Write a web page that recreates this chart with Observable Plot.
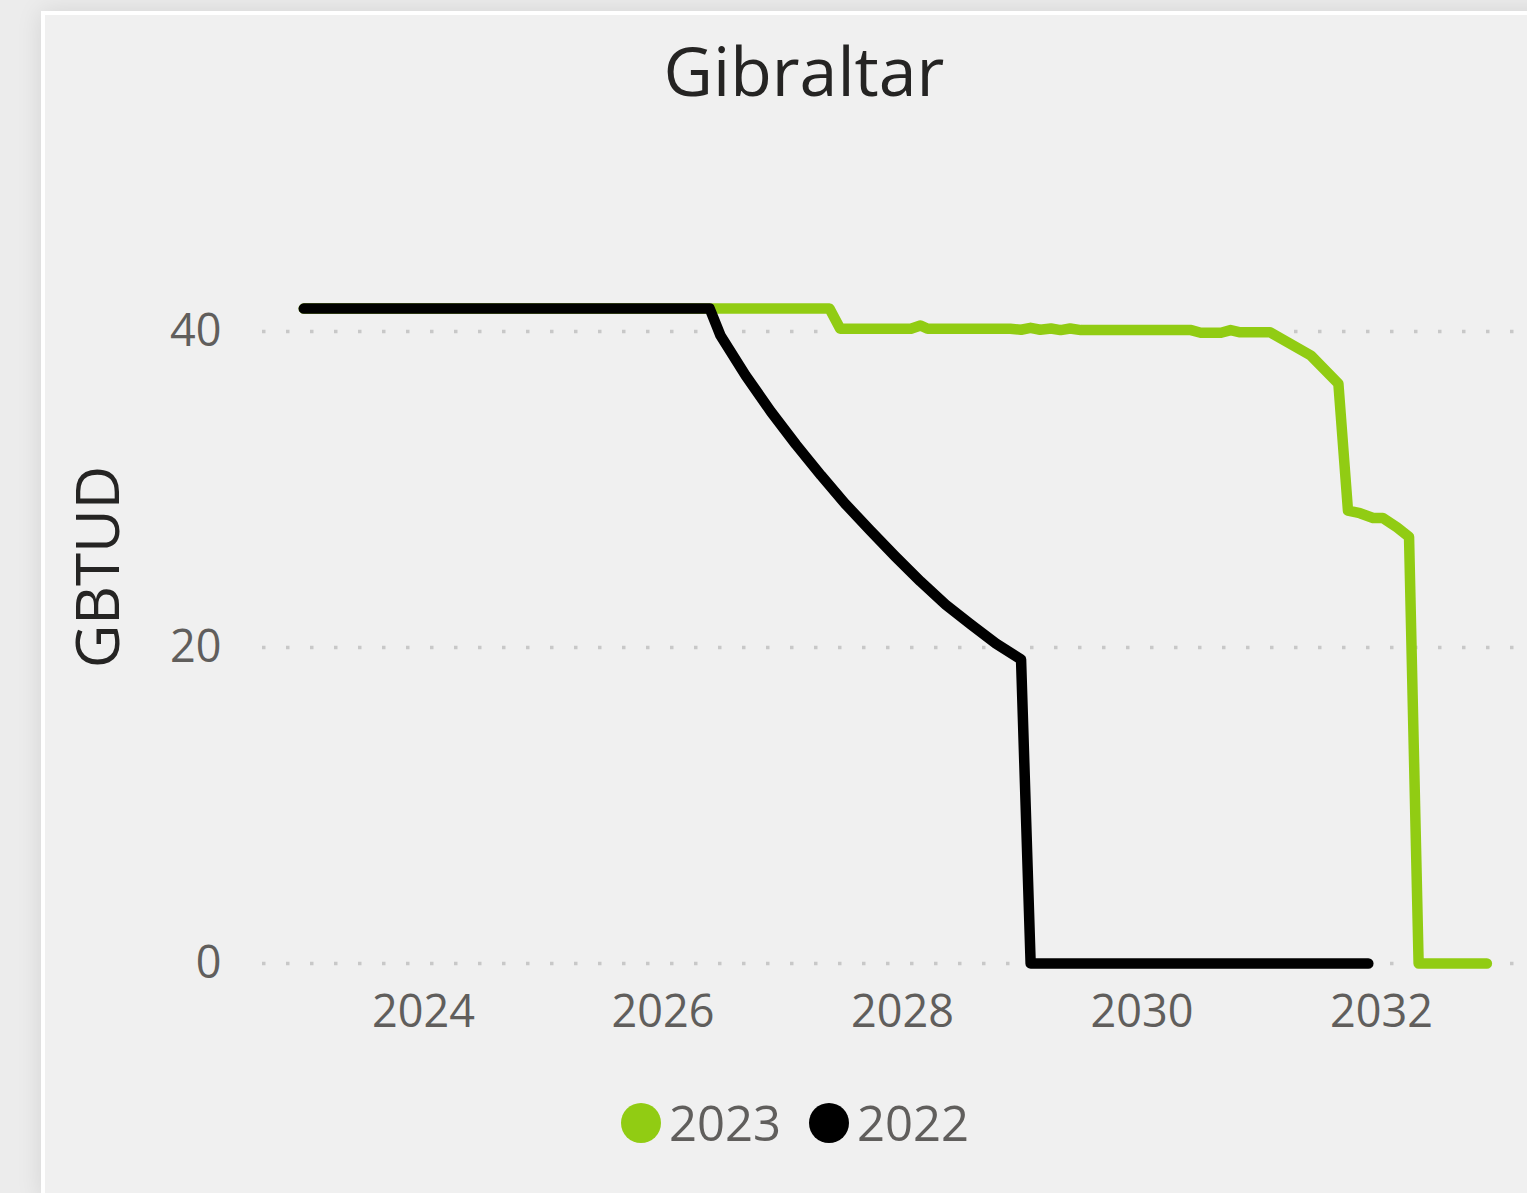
<!DOCTYPE html>
<html>
<head>
<meta charset="utf-8">
<script src="https://cdn.jsdelivr.net/npm/d3@7"></script>
<script src="https://cdn.jsdelivr.net/npm/@observablehq/plot@0.6"></script>
<style>
  html, body { margin: 0; padding: 0; }
  body { width: 1527px; height: 1193px; background: #ececec; position: relative; overflow: hidden; font-family: "Open Sans", "Noto Sans", sans-serif; }
  #panel { position: absolute; left: 41px; top: 11px; width: 1600px; height: 1180px; background: #f0f0f0; border: 4px solid #ffffff; box-shadow: 0 0 24px rgba(0,0,0,0.10); }
  #chart { position: absolute; left: 0; top: 0; }
  #title { position: absolute; left: 0; width: 1608px; top: 36px; text-align: center; font-size: 68px; line-height: 68px; color: #252423; }
  #ylabel { position: absolute; left: 96px; top: 567px; transform: translate(-50%, -50%) rotate(-90deg); font-size: 60px; line-height: 60px; color: #252423; white-space: nowrap; }
  .leg-dot { position: absolute; width: 40px; height: 40px; border-radius: 50%; top: 1103px; }
  .leg-txt { position: absolute; top: 1098px; font-size: 49px; line-height: 49px; color: #605e5c; }
</style>
</head>
<body>
<div id="panel"></div>
<div id="title">Gibraltar</div>
<div id="ylabel">GBTUD</div>
<div id="chart"></div>
<div id="legend"></div>
<script>
// ---- data ----
const seriesNames = ["2023", "2022"];
const seriesColors = ["#91cc13", "#000000"];

const years2023 = [2023.0, 2027.39, 2027.48, 2028.07, 2028.15, 2028.21, 2028.90, 2028.99, 2029.07, 2029.15, 2029.24, 2029.32, 2029.40, 2029.49, 2030.41, 2030.49, 2030.66, 2030.74, 2030.82, 2031.07, 2031.41, 2031.64, 2031.72, 2031.82, 2031.93, 2032.01, 2032.13, 2032.23, 2032.31, 2032.88];
const values2023 = [41.45, 41.45, 40.17, 40.17, 40.38, 40.17, 40.17, 40.11, 40.23, 40.11, 40.19, 40.09, 40.19, 40.09, 40.09, 39.92, 39.92, 40.09, 39.95, 39.95, 38.48, 36.7, 28.67, 28.5, 28.2, 28.2, 27.6, 27.0, 0, 0];

const years2022 = [2023.0, 2026.39, 2026.48, 2026.69, 2026.90, 2027.11, 2027.32, 2027.52, 2027.73, 2027.94, 2028.15, 2028.36, 2028.57, 2028.78, 2028.99, 2029.07, 2031.89];
const values2022 = [41.45, 41.45, 39.75, 37.22, 34.94, 32.85, 30.89, 29.11, 27.41, 25.76, 24.18, 22.72, 21.46, 20.25, 19.24, 0, 0];

const xTicks = [2024, 2026, 2028, 2030, 2032];
const yTicks = [0, 20, 40];

// ---- build rows ----
const rows2023 = years2023.map((y, i) => ({year: y, value: values2023[i]}));
const rows2022 = years2022.map((y, i) => ({year: y, value: values2022[i]}));

const chart = Plot.plot({
  width: 1527,
  height: 1060,
  marginLeft: 262,
  marginRight: 0,
  marginTop: 0,
  marginBottom: 85,
  x: {domain: [2024, 2032], range: [423, 1381]},
  y: {domain: [0, 40], range: [963, 331]},
  style: {background: "transparent", fontFamily: "'Open Sans', 'Noto Sans', sans-serif", color: "#605e5c", overflow: "visible"},
  marks: [
    Plot.ruleY(yTicks, {stroke: "#c8c8c8", strokeWidth: 3.5, strokeDasharray: "3.5,20.5"}),
    Plot.axisX(xTicks, {tickSize: 0, tickPadding: 20, fontSize: 45, tickFormat: d => String(d), label: null}),
    Plot.axisY(yTicks, {tickSize: 0, tickPadding: 41, fontSize: 45, tickFormat: d => String(d), label: null}),
    Plot.line(rows2023, {x: "year", y: "value", stroke: seriesColors[0], strokeWidth: 10.5, strokeLinecap: "round", strokeLinejoin: "round"}),
    Plot.line(rows2022, {x: "year", y: "value", stroke: seriesColors[1], strokeWidth: 10.5, strokeLinecap: "round", strokeLinejoin: "round"})
  ]
});
document.getElementById("chart").appendChild(chart);

// ---- legend ----
const legend = document.getElementById("legend");
const legPos = [{dot: 621, txt: 669}, {dot: 809, txt: 857}];
seriesNames.forEach((name, i) => {
  const d = document.createElement("div");
  d.className = "leg-dot";
  d.style.left = legPos[i].dot + "px";
  d.style.background = seriesColors[i];
  legend.appendChild(d);
  const t = document.createElement("div");
  t.className = "leg-txt";
  t.style.left = legPos[i].txt + "px";
  t.textContent = name;
  legend.appendChild(t);
});
</script>
</body>
</html>
